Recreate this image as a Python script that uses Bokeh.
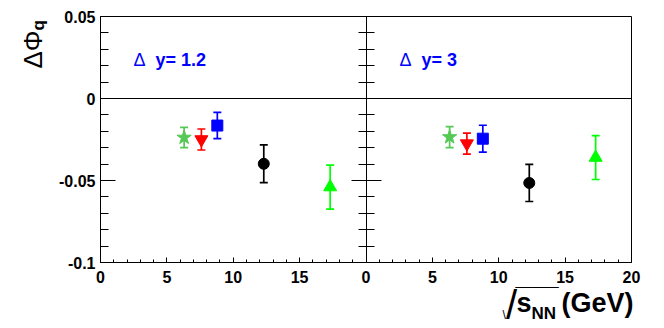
import numpy as np
from bokeh.plotting import figure
from bokeh.models import (ColumnDataSource, Whisker, TeeHead, Label, LinearAxis,
                          FixedTicker, NumeralTickFormatter, Range1d)
from bokeh.embed import file_html
from bokeh.resources import INLINE

# ---------------- data ----------------
energies = [6.3, 7.6, 8.8, 12.3, 17.3]          # sqrt(s_NN) in GeV
series_names = ["star", "red", "blue", "black", "green"]
markers = ["star", "inverted_triangle", "square", "circle", "triangle"]
colors = ["#55c855", "#ff0000", "#0000ff", "#000000", "#00ff00"]
marker_sizes = [15, 13, 11, 11, 13]

# Delta y = 1.2 panel
dphi_dy12 = [-0.0238, -0.0250, -0.0165, -0.0398, -0.0540]
err_dy12 = [0.0062, 0.0064, 0.0080, 0.0115, 0.0134]
# Delta y = 3 panel
dphi_dy3 = [-0.0235, -0.0275, -0.0245, -0.0515, -0.0360]
err_dy3 = [0.0064, 0.0064, 0.0082, 0.0113, 0.0134]

panel_labels = ["1.2", "3"]
x_tick_values = [0, 5, 10, 15, 20, 25, 30, 35, 40]
x_tick_labels = ["0", "5", "10", "15", "0", "5", "10", "15", "20"]
y_tick_values = [-0.1, -0.05, 0.0, 0.05]
panel_width = 20.0   # each panel spans 0..20 GeV
y_lo, y_hi = -0.1, 0.05

FONT = "Liberation Sans"
DESC = 0.212   # font descent (em) used to place text by its baseline

# ---------------- layout geometry (pixels) ----------------
W, H = 660, 328
FX0, FX1 = 100, 631     # data box left/right
FY0, FY1 = 16, 262      # data box top/bottom
sx = (FX1 - FX0) / (2 * panel_width)
sy = (FY1 - FY0) / (y_hi - y_lo)
x_range = Range1d(-FX0 / sx, (W - FX0) / sx)
y_range = Range1d(y_hi - (H - FY0) / sy, y_hi + FY0 / sy)


def dx(px):
    """pixel column -> data x (for text placement)"""
    return (px - FX0) / sx


def dy(py):
    """pixel row -> data y (for text placement)"""
    return y_hi - (py - FY0) / sy


def text(px, base_py, s, size, bold=False, color="black", font=FONT):
    """horizontal text whose baseline sits at pixel row base_py"""
    p.add_layout(Label(x=dx(px), y=dy(base_py + DESC * size), text=s,
                       text_font=font, text_font_size=f"{size}px",
                       text_font_style="bold" if bold else "normal",
                       text_color=color, text_baseline="bottom"))


def vtext(base_px, start_py, s, size, bold=False):
    """text rotated 90 deg, baseline at pixel column base_px"""
    p.add_layout(Label(x=dx(base_px + DESC * size), y=dy(start_py), text=s,
                       angle=np.pi / 2, text_font=FONT, text_font_size=f"{size}px",
                       text_font_style="bold" if bold else "normal",
                       text_color="black", text_baseline="bottom"))


p = figure(width=W, height=H, output_backend="svg", toolbar_location=None,
           x_range=x_range, y_range=y_range, x_axis_type=None, y_axis_type=None,
           min_border=0)
p.title.visible = False
p.grid.visible = False
p.outline_line_color = None
p.background_fill_color = "white"
p.border_fill_color = "white"

minor_x = list(np.arange(0, 2 * panel_width + 1, 1.0))
minor_y = list(np.round(np.arange(y_lo, y_hi + 1e-9, 0.01), 3))


def style_labels(ax, size="16px"):
    ax.major_label_text_font = FONT
    ax.major_label_text_font_style = "bold"
    ax.major_label_text_font_size = size
    ax.major_label_text_color = "black"
    ax.axis_line_color = "black"
    ax.major_tick_line_color = "black"
    ax.minor_tick_line_color = "black"


# bottom x axis
xa = LinearAxis(fixed_location=y_lo, bounds=(0, 2 * panel_width),
                ticker=FixedTicker(ticks=x_tick_values, minor_ticks=minor_x))
xa.major_label_overrides = {float(v): l for v, l in zip(x_tick_values, x_tick_labels)}
xa.major_tick_in, xa.major_tick_out = 5, 0
xa.minor_tick_in, xa.minor_tick_out = 3, 0
xa.major_label_standoff = 8
style_labels(xa)
p.add_layout(xa, "below")

# left y axis
ya = LinearAxis(fixed_location=0, bounds=(y_lo, y_hi),
                ticker=FixedTicker(ticks=y_tick_values, minor_ticks=minor_y),
                formatter=NumeralTickFormatter(format="0.[00]"))
ya.major_tick_in, ya.major_tick_out = 15, 0
ya.minor_tick_in, ya.minor_tick_out = 8, 0
ya.major_label_standoff = 5
style_labels(ya)
p.add_layout(ya, "left")

# middle axis shared by both panels
ma = LinearAxis(fixed_location=panel_width, bounds=(y_lo, y_hi),
                ticker=FixedTicker(ticks=y_tick_values, minor_ticks=minor_y))
ma.major_label_overrides = {float(v): "" for v in y_tick_values}
ma.major_tick_in, ma.major_tick_out = 15, 15
ma.minor_tick_in, ma.minor_tick_out = 8, 8
style_labels(ma)
p.add_layout(ma, "left")

# frame lines: right, top and the zero line
for loc, side, bnds in [(2 * panel_width, "right", (y_lo, y_hi)),
                        (y_hi, "above", (0, 2 * panel_width)),
                        (0.0, "above", (0, 2 * panel_width))]:
    fa = LinearAxis(fixed_location=loc, bounds=bnds, ticker=FixedTicker(ticks=[]))
    fa.major_tick_line_color = None
    fa.minor_tick_line_color = None
    fa.major_label_text_font_size = "0px"
    fa.axis_line_color = "black"
    p.add_layout(fa, side)

# data
for panel, (vals, errs) in enumerate([(dphi_dy12, err_dy12), (dphi_dy3, err_dy3)]):
    offset = panel * panel_width
    for i in range(len(energies)):
        src = ColumnDataSource(dict(
            x=[energies[i] + offset], y=[vals[i]],
            lower=[vals[i] - errs[i]], upper=[vals[i] + errs[i]]))
        p.add_layout(Whisker(source=src, base="x", lower="lower", upper="upper",
                             dimension="height", line_color=colors[i], line_width=1.7,
                             upper_head=TeeHead(size=8, line_color=colors[i], line_width=1.7),
                             lower_head=TeeHead(size=8, line_color=colors[i], line_width=1.7)))
        p.scatter("x", "y", source=src, marker=markers[i], size=marker_sizes[i],
                  fill_color=colors[i], line_color=colors[i])

# panel labels
for panel, (dpx, ypx) in enumerate([(133, 155), (399, 421)]):
    text(dpx, 66, "\u0394", 18, color="#0000ff")
    text(ypx, 66, "y= " + panel_labels[panel], 18, bold=True, color="#0000ff")

# y-axis title: Delta Phi_q (rotated)
vtext(42, 68, "\u0394\u03a6", 26)
vtext(43.5, 30, "q", 17, bold=True)

# x-axis title: sqrt(s_NN) (GeV)
text(502, 319, "\\", 12)                 # radical hook
text(505.5, 318.5, "/", 40)              # radical stroke
text(515, 284.7, "_____", 15.5)          # radical bar
text(516, 312, "s", 27, bold=True)
text(531, 319, "NN", 17, bold=True)
text(561, 312, "(GeV)", 27, bold=True)

open("out.html", "w").write(file_html(p, INLINE))
